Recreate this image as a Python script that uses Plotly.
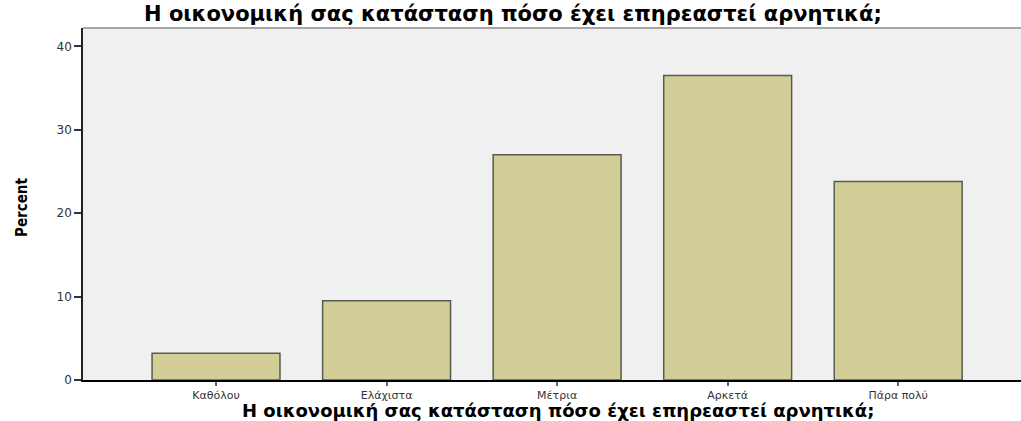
import plotly.graph_objects as go

categories = ["Καθόλου", "Ελάχιστα", "Μέτρια", "Αρκετά", "Πάρα πολύ"]
percent = [3.2, 9.5, 27.0, 36.5, 23.8]
y_ticks = [0, 10, 20, 30, 40]
title_text = "Η οικονομική σας κατάσταση πόσο έχει επηρεαστεί αρνητικά;"

W, H = 1021, 421
L = 83            # plot left on screen
T = 28            # plot top on screen
B = H - 380       # plot bottom on screen at 380

fig = go.Figure(go.Bar(
    x=list(range(len(categories))), y=percent,
    width=0.75,
    marker=dict(color="#D3CE98", line=dict(color="#5a5a50", width=1.5)),
))

fig.update_layout(
    width=W, height=H,
    margin=dict(l=L, r=0, t=T, b=B, autoexpand=False),
    paper_bgcolor="white", plot_bgcolor="#F0F0F0",
    showlegend=False,
    font=dict(family="DejaVu Sans, Liberation Sans, Arial", color="#222"),
)
fig.update_xaxes(
    range=[-0.78, 4.72],
    tickmode="array", tickvals=list(range(len(categories))), ticktext=categories,
    ticks="outside", ticklen=4, tickcolor="#666", tickwidth=1.5,
    tickfont=dict(size=11, color="#333"),
    ticklabelstandoff=0,
    showline=True, linecolor="black", linewidth=1.5,
    showgrid=False, zeroline=False,
)
fig.update_yaxes(
    range=[0, 42.2],
    tickmode="array", tickvals=y_ticks,
    ticks="outside", ticklen=7, tickcolor="#333", tickwidth=1.5,
    tickfont=dict(size=12, color="#333"),
    showline=True, linecolor="#222", linewidth=1.5,
    showgrid=False, zeroline=False,
)

fig.add_shape(type="line", xref="paper", yref="paper", x0=0, x1=1, y0=1, y1=1,
              line=dict(color="#8a8a8a", width=1.5))

plot_w = W - L
plot_h = H - T - B

def px_x(p):
    return (p - L) / plot_w

def px_y(p):
    return (H - B - p) / plot_h

fig.add_annotation(text="<b>" + title_text + "</b>", xref="paper", yref="paper",
                   x=px_x(513), y=px_y(14), showarrow=False, xanchor="center", yanchor="middle",
                   font=dict(family="DejaVu Sans", size=21, color="black"))
fig.add_annotation(text="<b>" + title_text + "</b>", xref="paper", yref="paper",
                   x=px_x(558), y=px_y(410), showarrow=False, xanchor="center", yanchor="middle",
                   font=dict(family="DejaVu Sans", size=18, color="black"))
fig.add_annotation(text="<b>Percent</b>", xref="paper", yref="paper",
                   x=px_x(22), y=px_y(208), showarrow=False, textangle=-90,
                   xanchor="center", yanchor="middle",
                   font=dict(family="Liberation Sans Narrow, DejaVu Sans Condensed, Arial Narrow", size=15, color="black"))

fig.write_html("out.html",
               config={"displayModeBar": False},
               post_script="document.body.style.margin='0';document.body.style.overflow='hidden';")
